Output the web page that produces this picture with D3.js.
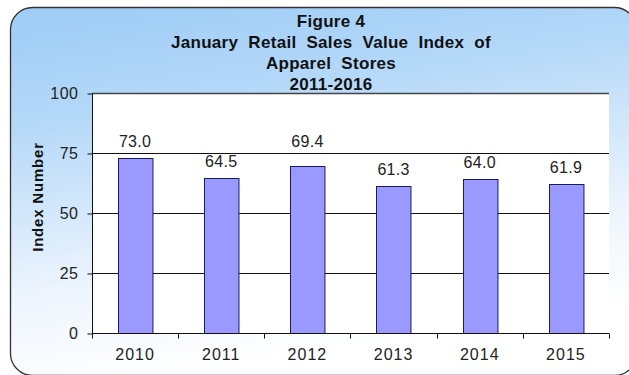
<!DOCTYPE html>
<html>
<head>
<meta charset="utf-8">
<script src="https://cdn.jsdelivr.net/npm/d3@7"></script>
<style>
  html, body { margin: 0; padding: 0; background: #fff; }
  svg { display: block; font-family: "Liberation Sans", Arial, sans-serif; }
</style>
</head>
<body>
<div id="chart"></div>
<script>
// Chart data
const years = ['2010', '2011', '2012', '2013', '2014', '2015'];
const indexValues = [73.0, 64.5, 69.4, 61.3, 64.0, 61.9];
const yTicks = [0, 25, 50, 75, 100];
const titleLines = ['Figure 4', 'January  Retail  Sales  Value  Index  of', 'Apparel  Stores', '2011-2016'];

const W = 629, H = 375;
const plot = { left: 92, right: 609, top: 93, bottom: 333 };
const FONT = '"Liberation Sans", Arial, sans-serif';

const svg = d3.select('#chart').append('svg')
    .attr('width', W)
    .attr('height', H);

// Background gradient for the frame
const defs = svg.append('defs');
const grad = defs.append('linearGradient')
    .attr('id', 'bg')
    .attr('x1', 0).attr('y1', 0)
    .attr('x2', 0.25).attr('y2', 1);
grad.append('stop').attr('offset', '0%').attr('stop-color', '#9dccf6');
grad.append('stop').attr('offset', '30%').attr('stop-color', '#b4d8f8');
grad.append('stop').attr('offset', '75%').attr('stop-color', '#eef5fd');
grad.append('stop').attr('offset', '100%').attr('stop-color', '#ffffff');

svg.append('rect')
    .attr('x', 10.5).attr('y', 7.5)
    .attr('width', 626).attr('height', 368)
    .attr('rx', 22).attr('ry', 22)
    .attr('fill', 'url(#bg)')
    .attr('stroke', '#333')
    .attr('stroke-width', 1.3);

// Title
svg.append('g').selectAll('text')
    .data(titleLines)
    .enter().append('text')
    .attr('x', 331)
    .attr('y', (d, i) => 27 + i * 21)
    .attr('text-anchor', 'middle')
    .attr('font-size', 17)
    .attr('font-weight', 'bold')
    .attr('letter-spacing', 0.3)
    .attr('fill', '#111')
    .style('white-space', 'pre')
    .text(d => d);

// Scales
const x = d3.scaleBand()
    .domain(years)
    .range([plot.left, plot.right])
    .paddingInner(0.6)
    .paddingOuter(0.3);

const y = d3.scaleLinear()
    .domain([0, 100])
    .range([plot.bottom, plot.top]);

// Plot area
svg.append('rect')
    .attr('x', plot.left).attr('y', plot.top)
    .attr('width', plot.right - plot.left)
    .attr('height', plot.bottom - plot.top)
    .attr('fill', '#fff');

// Gridlines
svg.append('g').selectAll('line')
    .data(yTicks.filter(t => t > 0))
    .enter().append('line')
    .attr('x1', plot.left).attr('x2', plot.right)
    .attr('y1', d => Math.round(y(d)) + 0.5)
    .attr('y2', d => Math.round(y(d)) + 0.5)
    .attr('stroke', d => d === 100 ? '#444' : '#111')
    .attr('stroke-width', d => d === 100 ? 1.6 : 1);

// Bars
svg.append('g').selectAll('rect')
    .data(indexValues)
    .enter().append('rect')
    .attr('x', (d, i) => Math.round(x(years[i])) + 0.5)
    .attr('y', d => Math.round(y(d)) + 0.5)
    .attr('width', x.bandwidth())
    .attr('height', d => Math.round(y(0)) - Math.round(y(d)))
    .attr('fill', '#9999ff')
    .attr('stroke', '#1a1a5e')
    .attr('stroke-width', 1);

// Value labels (lifted above a gridline if they would sit on it)
function labelY(v) {
    let base = y(v) - 11;
    yTicks.forEach(t => {
        const gy = y(t);
        if (gy > base - 13 && gy < base + 2) base = gy - 6;
    });
    return base;
}
svg.append('g').selectAll('text')
    .data(indexValues)
    .enter().append('text')
    .attr('x', (d, i) => x(years[i]) + x.bandwidth() / 2)
    .attr('y', d => labelY(d))
    .attr('text-anchor', 'middle')
    .attr('font-size', 16)
    .attr('letter-spacing', 0.3)
    .attr('fill', '#222')
    .text(d => d.toFixed(1));

// Y axis
const yAxis = d3.axisLeft(y)
    .tickValues(yTicks)
    .tickSize(5)
    .tickPadding(9);
const yg = svg.append('g')
    .attr('transform', `translate(${plot.left + 0.5},0.5)`)
    .call(yAxis);
yg.select('.domain').attr('stroke', '#111').attr('d', `M0,${plot.top}V${plot.bottom}`);
yg.selectAll('.tick line').attr('stroke', '#111');
yg.selectAll('.tick text')
    .attr('font-size', 16)
    .attr('font-family', FONT)
    .attr('letter-spacing', 0.5)
    .attr('fill', '#222');

// X axis: ticks at band boundaries
const xAxis = d3.axisBottom(x)
    .tickSize(0)
    .tickPadding(15);
const xg = svg.append('g')
    .attr('transform', `translate(0,${plot.bottom + 0.5})`)
    .call(xAxis);
xg.select('.domain').attr('stroke', '#111').attr('d', `M${plot.left},0H${plot.right}`);
xg.selectAll('.tick text')
    .attr('font-size', 16)
    .attr('font-family', FONT)
    .attr('letter-spacing', 1)
    .attr('fill', '#222');

const boundaries = years.map(yr => x(yr) - x.step() * x.paddingOuter());
boundaries.push(plot.right);
xg.append('g').selectAll('line')
    .data(boundaries)
    .enter().append('line')
    .attr('x1', d => Math.round(d) + 0.5).attr('x2', d => Math.round(d) + 0.5)
    .attr('y1', 0).attr('y2', 5)
    .attr('stroke', '#111');

// Y axis title
svg.append('text')
    .attr('transform', `translate(43,197) rotate(-90)`)
    .attr('text-anchor', 'middle')
    .attr('font-size', 15)
    .attr('font-weight', 'bold')
    .attr('fill', '#111')
    .attr('letter-spacing', 0.8)
    .text('Index Number');
</script>
</body>
</html>
